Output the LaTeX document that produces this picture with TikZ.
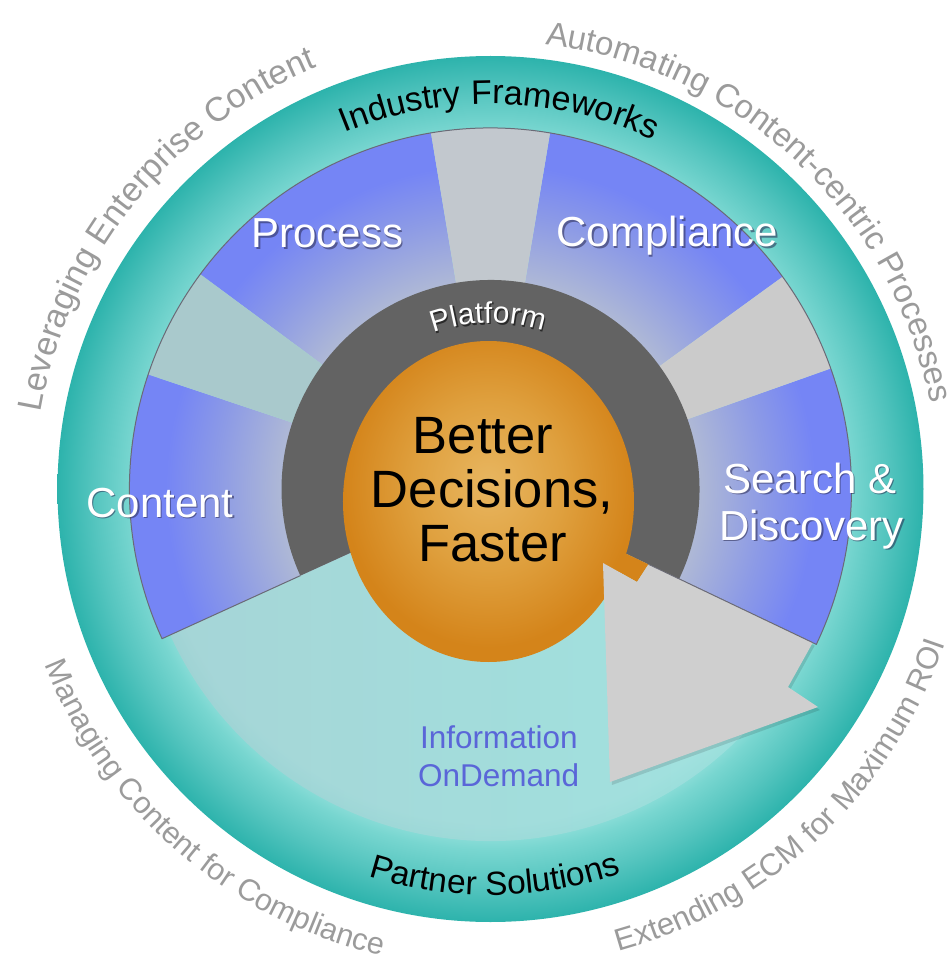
\documentclass[tikz,border=0pt]{standalone}
\usepackage{fontspec}
\setmainfont{Liberation Sans}
\usetikzlibrary{decorations.text}
\definecolor{tealdark}{HTML}{2DB3AC}
\definecolor{tealmid}{HTML}{55C5BF}
\definecolor{teallight}{HTML}{78D6D0}
\definecolor{botlight}{HTML}{A0E5E1}
\definecolor{botgray}{HTML}{A9CFD3}
\definecolor{blueouter}{HTML}{7585F5}
\definecolor{bluemid}{HTML}{8C9AE6}
\definecolor{blueinner}{HTML}{AEB8D6}
\definecolor{gaptop}{HTML}{C2C8CE}
\definecolor{gapright}{HTML}{CBCBCB}
\definecolor{gapleft}{HTML}{A9C9CC}
\definecolor{ringgray}{HTML}{636363}
\definecolor{orangelight}{HTML}{E8B660}
\definecolor{orangemid}{HTML}{DFA03E}
\definecolor{orangedark}{HTML}{D4841A}
\definecolor{arrowgray}{HTML}{CFCFCF}
\definecolor{outertext}{HTML}{9B9B9B}
\definecolor{infoblue}{HTML}{5A66D8}
\definecolor{edgeline}{HTML}{6A6A76}
\definecolor{shadowc}{HTML}{2A2A50}
\definecolor{platshadow}{HTML}{2A2A2A}

% the central 50bp x 50bp square of a shading is fitted to the path: radius R <-> 25bp
\pgfdeclareradialshading{tealdisc}{\pgfpoint{0bp}{0bp}}{color(0bp)=(botlight); color(19.3bp)=(botlight); color(20.85bp)=(teallight); color(22.9bp)=(tealmid); color(25bp)=(tealdark); color(100bp)=(tealdark)}
\pgfdeclareradialshading{bluedisc}{\pgfpoint{0bp}{0bp}}{color(0bp)=(blueinner); color(14.5bp)=(blueinner); color(19bp)=(bluemid); color(22.5bp)=(blueouter); color(100bp)=(blueouter)}
\pgfdeclareradialshading{orangeball}{\pgfpoint{0bp}{3bp}}{color(0bp)=(orangelight); color(13bp)=(orangemid); color(25bp)=(orangedark); color(100bp)=(orangedark)}

\newcommand\myfs[1]{\fontsize{#1}{#1}\selectfont}

\begin{document}
\begin{tikzpicture}[x=1pt,y=1pt,
  seglabel/.style={text=white, font=\myfs{42}, anchor=base, inner sep=0pt},
  segshadow/.style={text=shadowc, opacity=0.55, font=\myfs{42}, anchor=base, inner sep=0pt},
  centertext/.style={text=black, font=\myfs{52.5}, anchor=base, inner sep=0pt},
  infotext/.style={text=infoblue, font=\myfs{31.5}, anchor=base west, inner sep=0pt},
  edgestyle/.style={draw=edgeline, line width=1pt, line join=round}
]
\useasboundingbox (-490.5,-470) rectangle (459.5,489);
\fill[white] (-490.5,-470) rectangle (459.5,489);

% outer teal disc
\shade[shading=tealdisc] (0,0) circle[radius=433];

% bottom region tint
\begin{scope}
  \clip (0,0) -- (204.5:352) arc[start angle=204.5,end angle=334.5,radius=352] -- cycle;
  \shade[left color=botgray, right color=botlight, opacity=0.75] (-360,-360) rectangle (360,0);
\end{scope}

% blue segments
\foreach \a/\b in {-25.5/19.5, 36/80.5, 99.5/143.5, 161.5/204.5}{
  \begin{scope}
    \clip (0,0) -- (\a:361) arc[start angle=\a,end angle=\b,radius=361] -- cycle;
    \shade[shading=bluedisc] (0,0) circle[radius=361];
  \end{scope}
}
% gaps
\fill[gapright] (0,0) -- (19.5:361) arc[start angle=19.5,end angle=36,radius=361] -- cycle;
\fill[gaptop] (0,0) -- (80.5:361) arc[start angle=80.5,end angle=99.5,radius=361] -- cycle;
\fill[gapleft] (0,0) -- (143.5:361) arc[start angle=143.5,end angle=161.5,radius=361] -- cycle;

% outline of the segment band
\draw[edgestyle] (204.5:209) -- (204.5:361) arc[start angle=204.5,end angle=-25.5,radius=361] -- (-25.5:209);

% platform ring
\fill[ringgray] (0,0) -- (-25.5:209) arc[start angle=-25.5,end angle=204.5,radius=209] -- cycle;

% orange piece by the arrow and orange core
\fill[orangedark] (-25.5:130) -- (-25.5:175) -- (146.5,-93) -- (112.5,-74) -- cycle;
\shade[shading=orangeball] (-2,-12.5) ellipse[x radius=145.5, y radius=160.5];

% arrow head
\begin{scope}[shift={(2,-3)}]
  \fill[black, opacity=0.12] (112.5,-74) -- (146.5,-93) -- (-25.5:175) -- (-25.5:357) -- (297.5,-198) -- (327.5,-218) -- (119.5,-293) -- cycle;
\end{scope}
\fill[arrowgray] (112.5,-74) -- (146.5,-93) -- (-25.5:175) -- (-25.5:357) -- (297.5,-198) -- (327.5,-218) -- (119.5,-293) -- cycle;
\draw[edgestyle, line width=0.8pt] (-25.5:175) -- (-25.5:357);

% centre text
\node[centertext] (better) at (-7.5,36) {Better};
\node[centertext] (decisions) at (1.5,-18) {Decisions,};
\node[centertext] (faster) at (2,-72) {Faster};

% segment labels
\node[segshadow] (process-s) at (-161.5,239.5) {Process};
\node[seglabel] (process) at (-163,241) {Process};
\node[segshadow] (compliance-s) at (178.5,240.5) {Compliance};
\node[seglabel] (compliance) at (177,242) {Compliance};
\node[segshadow] (content-s) at (-329,-29.5) {Content};
\node[seglabel] (content) at (-330.5,-28) {Content};
\node[segshadow] (search-s) at (321,-5.5) {Search \&};
\node[seglabel] (search) at (319.5,-4) {Search \&};
\node[segshadow] (discovery-s) at (322.5,-52.5) {Discovery};
\node[seglabel] (discovery) at (321,-51) {Discovery};

% information on demand
\node[infotext] (info1) at (-70.5,-259) {Information};
\node[infotext] (info2) at (-72.5,-297) {OnDemand};

% platform label
\path[decorate, decoration={text along path, text align=center,
  text={|\myfs{30}\color{platshadow}|Platform}}]
  ([shift={(1.5,-1.5)}]120.8:166) arc[start angle=120.8,end angle=60.8,radius=166];
\path[decorate, decoration={text along path, text align=center,
  text={|\myfs{30}\color{white}|Platform}}]
  (120.8:166) arc[start angle=120.8,end angle=60.8,radius=166];

% ring labels
\path[decorate, decoration={text along path, text align=center,
  text={|\myfs{34}\color{black}|Industry Frameworks}}]
  (118.65:385) arc[start angle=118.65,end angle=58.65,radius=385];
\path[decorate, decoration={text along path, text align=center,
  text={|\myfs{33.5}\color{black}|Partner Solutions}}]
  (245.6:406) arc[start angle=245.6,end angle=295.6,radius=406];

% outer labels
\path[decorate, decoration={text along path, text align=center,
  text={|\myfs{34}\color{outertext}|Leveraging Enterprise Content}}]
  (181.35:456) arc[start angle=181.35,end angle=101.35,radius=456];
\path[decorate, decoration={text along path, text align=center,
  text={|\myfs{33}\color{outertext}|Automating Content-centric Processes}}]
  (92:448) arc[start angle=92,end angle=2,radius=448];
\path[decorate, decoration={text along path, text align=center,
  text={|\myfs{30.5}\color{outertext}|Managing Content for Compliance}}]
  (194.2:479) arc[start angle=194.2,end angle=264.2,radius=479];
\path[decorate, decoration={text along path, text align=center,
  text={|\myfs{31}\color{outertext}|Extending ECM for Maximum ROI}}]
  (278.35:480) arc[start angle=278.35,end angle=348.35,radius=480];
\end{tikzpicture}
\end{document}
